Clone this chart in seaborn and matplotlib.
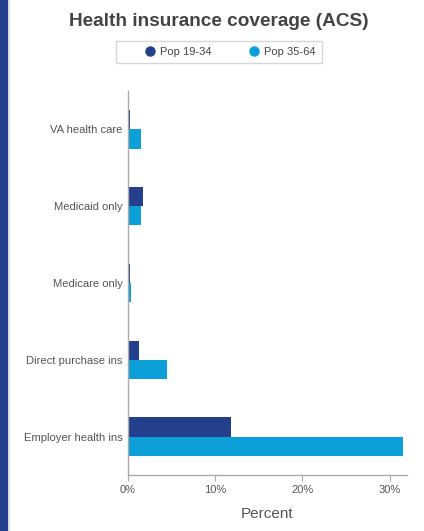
import pandas as pd
import matplotlib.pyplot as plt
import seaborn as sns
from matplotlib.patches import Rectangle
from matplotlib.lines import Line2D

categories = ["VA health care", "Medicaid only", "Medicare only",
              "Direct purchase ins", "Employer health ins"]
pop_19_34 = [0.25, 1.7, 0.25, 1.3, 11.8]
pop_35_64 = [1.5, 1.5, 0.3, 4.5, 31.5]
series = ["Pop 19-34", "Pop 35-64"]
colors = ["#243f8c", "#0c9fd8"]
xticks = [0, 10, 20, 30]

df = pd.DataFrame({
    "category": categories * 2,
    "value": pop_19_34 + pop_35_64,
    "series": [series[0]] * len(categories) + [series[1]] * len(categories),
})

sns.set_style("white")
plt.rcParams["font.family"] = ["Liberation Sans", "DejaVu Sans"]

fig = plt.figure(figsize=(4.24, 5.31), dpi=100)
ax = fig.add_axes([128 / 424, 1 - 475 / 531, (407 - 128) / 424, (475 - 91) / 531])

sns.barplot(data=df, y="category", x="value", hue="series", order=categories,
            hue_order=series, palette=colors, orient="h", width=0.5,
            saturation=1, linewidth=0, ax=ax, legend=False)

ax.set_xlim(0, 32)
ax.set_ylim(4.5, -0.5)
ax.set_xticks(xticks)
ax.set_xticklabels([f"{t}%" for t in xticks], color="#555555", fontsize=8)
ax.tick_params(axis="x", length=4, width=0.8, color="#aaaaaa", bottom=True, pad=3)
ax.tick_params(axis="y", length=0, pad=4, labelsize=8.1, labelcolor="#555555")
ax.set_ylabel("")
ax.set_xlabel("Percent", fontsize=11, color="#555555", labelpad=9)
for side in ["top", "right"]:
    ax.spines[side].set_visible(False)
for side in ["left", "bottom"]:
    ax.spines[side].set_color("#aaaaaa")
    ax.spines[side].set_linewidth(1)
ax.set_axisbelow(False)

# titel
fig.text(219 / 424, 1 - 21 / 531, "Health insurance coverage (ACS)", ha="center",
         va="center", fontsize=13.7, fontweight="bold", color="#444444")

# legende
handles = [Line2D([], [], marker="o", linestyle="", markersize=6.5,
                  markerfacecolor=c, markeredgecolor=c) for c in colors]
leg = fig.legend(handles, series, loc="center", bbox_to_anchor=(219 / 424, 1 - 52 / 531),
                 ncol=2, frameon=True, fontsize=8, labelcolor="#444444",
                 handletextpad=-1.6, columnspacing=1.3, borderpad=0.55,
                 borderaxespad=0, handlelength=5,
                 fancybox=False, edgecolor="#cccccc")
leg.get_frame().set_linewidth(1)

# linker rand
fig.patches.append(Rectangle((0, 0), 8 / 424, 1, transform=fig.transFigure,
                             facecolor="#243f8c", edgecolor="none"))
fig.patches.append(Rectangle((8 / 424, 0), 2 / 424, 1, transform=fig.transFigure,
                             facecolor="#d8dde8", edgecolor="none"))

fig.savefig("out.png", dpi=100)
